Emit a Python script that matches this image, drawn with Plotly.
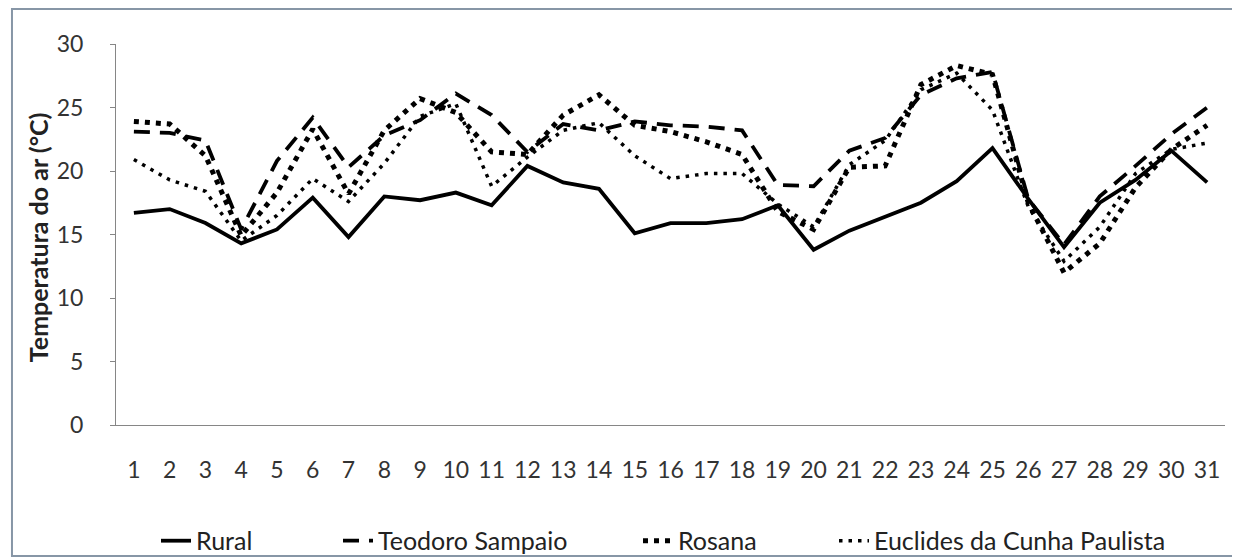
import plotly.graph_objects as go

# dias do mes
dias = list(range(1, 32))

# temperatura do ar (oC) por local
rural = [16.7, 17.0, 15.9, 14.3, 15.4, 17.9, 14.8, 18.0, 17.7, 18.3, 17.3, 20.4, 19.1, 18.6, 15.1, 15.9,
         15.9, 16.2, 17.3, 13.8, 15.3, 16.4, 17.5, 19.2, 21.8, 17.8, 14.0, 17.5, 19.3, 21.6, 19.1]
teodoro = [23.1, 23.0, 22.4, 15.4, 20.8, 24.2, 20.3, 22.8, 24.0, 26.1, 24.4, 21.5, 23.7, 23.2, 23.9, 23.6,
           23.5, 23.2, 18.9, 18.8, 21.6, 22.6, 26.0, 27.3, 27.8, 17.8, 14.2, 18.0, 20.4, 22.9, 25.0]
rosana = [23.9, 23.7, 21.2, 14.9, 18.3, 23.3, 18.2, 23.2, 25.7, 24.6, 21.5, 21.3, 24.4, 26.0, 23.6, 23.1,
          22.3, 21.3, 16.8, 15.4, 20.3, 20.4, 26.8, 28.3, 27.6, 17.5, 12.0, 14.3, 18.7, 21.7, 23.6]
euclides = [20.9, 19.3, 18.4, 14.5, 16.5, 19.4, 17.6, 20.6, 24.3, 25.3, 18.8, 21.1, 23.2, 23.8, 21.2, 19.4,
            19.8, 19.8, 17.4, 15.6, 20.5, 22.4, 26.4, 27.7, 24.8, 17.2, 12.9, 15.6, 19.8, 21.7, 22.2]

fonte = "Lato, Carlito, sans-serif"
W, H = 1232, 550  # a pagina tem 8px de margem no body

fig = go.Figure()
fig.add_trace(go.Scatter(x=dias, y=rural, name="Rural", mode="lines", legend="legend",
                         line=dict(color="black", width=3.8)))
fig.add_trace(go.Scatter(x=dias, y=teodoro, name="Teodoro Sampaio", mode="lines", legend="legend2",
                         line=dict(color="black", width=3.8, dash="16px,10px")))
fig.add_trace(go.Scatter(x=dias, y=rosana, name="Rosana", mode="lines", legend="legend3",
                         line=dict(color="black", width=5, dash="5px,6px")))
fig.add_trace(go.Scatter(x=dias, y=euclides, name="Euclides da Cunha Paulista", mode="lines",
                         legend="legend4",
                         line=dict(color="black", width=3.5, dash="3.5px,6px")))

# uma legenda por serie, lado a lado na base
leg = dict(orientation="h", xref="container", yref="container", xanchor="left",
           y=0.031, yanchor="middle", font=dict(size=25, color="#222"),
           bgcolor="rgba(0,0,0,0)")

fig.update_layout(
    width=W, height=H,
    margin=dict(l=108, r=15, t=36, b=133, autoexpand=False),
    paper_bgcolor="white", plot_bgcolor="white",
    font=dict(family=fonte, size=23, color="#333"),
    showlegend=True,
    legend=dict(leg, x=148 / W),
    legend2=dict(leg, x=330 / W),
    legend3=dict(leg, x=630 / W),
    legend4=dict(leg, x=826 / W),
    xaxis=dict(range=[0.5, 31.5], tickmode="linear", tick0=1, dtick=1,
               showgrid=False, zeroline=False, showline=True, linecolor="#868686", linewidth=1,
               ticks="", ticklabelstandoff=24, automargin=False),
    yaxis=dict(range=[0, 30], dtick=5, showgrid=False, zeroline=False,
               showline=True, linecolor="#868686", linewidth=1,
               ticks="outside", ticklen=5, tickcolor="#868686", ticklabelstandoff=22,
               automargin=False),
    annotations=[dict(text="<b>Temperatura do ar (°C)</b>", textangle=-90,
                      xref="paper", yref="paper", x=-0.0703, y=0.493,
                      xanchor="center", yanchor="middle",
                      showarrow=False, font=dict(size=25, color="#222"))],
    shapes=[dict(type="rect", xref="paper", yref="paper",
                 x0=-0.0938, x1=1.0108, y0=-0.3438, y1=1.0919,
                 line=dict(color="#8796a6", width=2))],
)

fig.write_html("out.html")
